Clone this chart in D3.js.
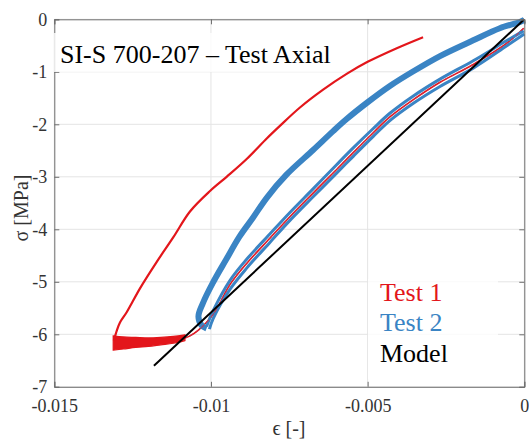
<!DOCTYPE html>
<html>
<head>
<meta charset="utf-8">
<script src="https://cdn.jsdelivr.net/npm/d3@7"></script>
<style>
  svg#chart text.serif { font-family: "Liberation Serif", "Times New Roman", serif !important; }
</style>
</head>
<body style="margin:0">
<script>
// axis ticks
const xTicks = [-0.015, -0.01, -0.005, 0];
const yTicks = [0, -1, -2, -3, -4, -5, -6, -7];

// Test 1 (red): loading branch from origin down to the plateau
const test1Loading = [
  [-0.00002, -0.17], [-0.00057, -0.46], [-0.00163, -0.86], [-0.00269, -1.20],
  [-0.00354, -1.53], [-0.00429, -1.86], [-0.00482, -2.16], [-0.00546, -2.54],
  [-0.00599, -2.86], [-0.00674, -3.31], [-0.00748, -3.76], [-0.00812, -4.17],
  [-0.00886, -4.65], [-0.00939, -5.05], [-0.00993, -5.62], [-0.01040, -5.92],
  [-0.01070, -6.04], [-0.01083, -6.07]
];
// Test 1 plateau, top and bottom edge of the noisy band
const plateauStrain = [-0.01312, -0.0128, -0.0124, -0.0120, -0.0116, -0.0112, -0.01083];
const plateauTop    = [-6.03, -6.05, -6.06, -6.07, -6.06, -6.04, -6.01];
const plateauBottom = [-6.30, -6.28, -6.25, -6.23, -6.20, -6.17, -6.12];
// Test 1 unloading branch
const test1Unloading = [
  [-0.01310, -6.12], [-0.01300, -5.92], [-0.01290, -5.77], [-0.01269, -5.58],
  [-0.01226, -5.12], [-0.01173, -4.62], [-0.01120, -4.15], [-0.01067, -3.66],
  [-0.01003, -3.27], [-0.00950, -3.00], [-0.00886, -2.66], [-0.00822, -2.27],
  [-0.00780, -2.03], [-0.00716, -1.68], [-0.00642, -1.34], [-0.00567, -1.04],
  [-0.00500, -0.81], [-0.00407, -0.55], [-0.00323, -0.34]
];

// Test 2 (blue): first loading strand, unloading, second loading strand
const test2LoadingA = [
  [-0.00002, -0.22], [-0.00057, -0.41], [-0.00163, -0.79], [-0.00269, -1.14],
  [-0.00354, -1.46], [-0.00429, -1.79], [-0.00482, -2.08], [-0.00546, -2.45],
  [-0.00599, -2.77], [-0.00674, -3.23], [-0.00748, -3.68], [-0.00812, -4.09],
  [-0.00886, -4.57], [-0.00939, -4.97], [-0.00993, -5.55], [-0.01014, -5.85]
];
const test2Unloading = [
  [-0.01014, -5.89], [-0.01030, -5.83], [-0.01040, -5.66], [-0.01026, -5.41],
  [-0.00995, -5.03], [-0.00952, -4.58], [-0.00909, -4.14], [-0.00866, -3.78],
  [-0.00822, -3.40], [-0.00759, -2.96], [-0.00674, -2.49], [-0.00610, -2.13],
  [-0.00567, -1.90], [-0.00500, -1.58], [-0.00429, -1.27], [-0.00354, -0.99],
  [-0.00269, -0.70], [-0.00163, -0.40], [-0.00078, -0.17], [-0.00014, -0.05],
  [0, -0.01]
];
const test2LoadingB = [
  [0, -0.28], [-0.00057, -0.51], [-0.00163, -0.93], [-0.00269, -1.28],
  [-0.00354, -1.60], [-0.00429, -1.93], [-0.00482, -2.23], [-0.00546, -2.61],
  [-0.00599, -2.93], [-0.00674, -3.38], [-0.00748, -3.83], [-0.00812, -4.25],
  [-0.00886, -4.74], [-0.00939, -5.14], [-0.00993, -5.70], [-0.01005, -5.90]
];

// Model (black), straight line
const modelLine = [[-0.01182, -6.60], [0, 0]];

const legendNames = ['Test 1', 'Test 2', 'Model'];
const legendColors = ['#e3161b', '#3a84c4', '#000000'];

const margin = { left: 54.3, top: 19.3 };
const width = 470;
const height = 367.5;
const fontStack = '"Liberation Serif", "Times New Roman", serif';

function serifText(sel) {
  sel.classed('serif', true)
    .attr('font-family', fontStack)
    .style('font-family', fontStack, 'important');
}

const x = d3.scaleLinear().domain([-0.015, 0]).range([0, width]);
const y = d3.scaleLinear().domain([-7, 0]).range([height, 0]);

const svg = d3.select('body').append('svg')
  .attr('id', 'chart')
  .attr('width', 529).attr('height', 439);

const g = svg.append('g')
  .attr('transform', 'translate(' + margin.left + ',' + margin.top + ')');

// grid
g.append('g').selectAll('line').data(xTicks).join('line')
  .attr('x1', d => x(d)).attr('x2', d => x(d))
  .attr('y1', 0).attr('y2', height)
  .attr('stroke', '#e4e4e4').attr('stroke-width', 1);
g.append('g').selectAll('line').data(yTicks).join('line')
  .attr('x1', 0).attr('x2', width)
  .attr('y1', d => y(d)).attr('y2', d => y(d))
  .attr('stroke', '#e4e4e4').attr('stroke-width', 1);

const line = d3.line().x(d => x(d[0])).y(d => y(d[1])).curve(d3.curveCatmullRom.alpha(0.5));

// Test 1
g.append('path').attr('d', line(test1Loading))
  .attr('fill', 'none').attr('stroke', '#e3161b').attr('stroke-width', 1.6);
const plateau = d3.area()
  .x((d, i) => x(plateauStrain[i]))
  .y0((d, i) => y(plateauBottom[i]))
  .y1((d, i) => y(plateauTop[i]))
  .curve(d3.curveCatmullRom.alpha(0.5));
g.append('path').attr('d', plateau(plateauStrain))
  .attr('fill', '#e3161b').attr('stroke', '#e3161b').attr('stroke-width', 1.2);
g.append('path').attr('d', line(test1Unloading))
  .attr('fill', 'none').attr('stroke', '#e3161b').attr('stroke-width', 2.2)
  .attr('stroke-linejoin', 'round');

// Test 2
g.append('path').attr('d', line(test2LoadingA))
  .attr('fill', 'none').attr('stroke', '#3a84c4').attr('stroke-width', 3)
  .attr('stroke-linejoin', 'round');
g.append('path').attr('d', line(test2LoadingB))
  .attr('fill', 'none').attr('stroke', '#3a84c4').attr('stroke-width', 3)
  .attr('stroke-linejoin', 'round');
g.append('path').attr('d', line(test2Unloading))
  .attr('fill', 'none').attr('stroke', '#3a84c4').attr('stroke-width', 6)
  .attr('stroke-linejoin', 'round');
// red loading seen through the blue band
g.append('path').attr('d', line(test1Loading))
  .attr('fill', 'none').attr('stroke', '#d0304a').attr('stroke-width', 1.2)
  .attr('stroke-dasharray', '4,3').attr('opacity', 0.8);

// Model
g.append('path').attr('d', line(modelLine))
  .attr('fill', 'none').attr('stroke', '#000').attr('stroke-width', 2);

// axes (box with inward ticks)
const axisColor = '#6e6e6e';
const xAxis = d3.axisBottom(x).tickValues(xTicks).tickSize(-5).tickPadding(12)
  .tickFormat(d => String(d));
const yAxis = d3.axisLeft(y).tickValues(yTicks).tickSize(-5).tickPadding(7)
  .tickFormat(d => String(d));
const xTop = d3.axisTop(x).tickValues(xTicks).tickSize(-5).tickFormat('');
const yRight = d3.axisRight(y).tickValues(yTicks).tickSize(-5).tickFormat('');

function styleAxis(sel) {
  sel.attr('font-family', fontStack);
  sel.select('.domain').attr('stroke', axisColor);
  sel.selectAll('.tick line').attr('stroke', axisColor);
  sel.selectAll('.tick text').attr('fill', '#333').attr('font-size', 18)
    .call(serifText);
}
g.append('g').attr('transform', 'translate(0,' + height + ')').call(xAxis).call(styleAxis);
g.append('g').call(yAxis).call(styleAxis);
g.append('g').call(xTop).call(styleAxis);
g.append('g').attr('transform', 'translate(' + width + ',0)').call(yRight).call(styleAxis);

// title box
svg.append('rect').attr('x', 54).attr('y', 33).attr('width', 292).attr('height', 39)
  .attr('fill', '#fff').attr('opacity', 0.8);
svg.append('text').attr('x', 60).attr('y', 62.5)
  .attr('font-size', 26).attr('fill', '#000')
  .call(serifText)
  .text('SI-S 700-207 – Test Axial');

// legend
svg.append('rect').attr('x', 368).attr('y', 279).attr('width', 130).attr('height', 100)
  .attr('fill', '#fff').attr('opacity', 0.8);
svg.append('g').selectAll('text').data(legendNames).join('text')
  .attr('x', 380)
  .attr('y', (d, i) => 300.5 + i * 30.5)
  .attr('font-size', 26)
  .call(serifText)
  .attr('fill', (d, i) => legendColors[i])
  .text(d => d);

// axis labels
svg.append('text')
  .attr('transform', 'translate(28,208) rotate(-90)')
  .attr('text-anchor', 'middle').attr('font-size', 20).attr('fill', '#333')
  .call(serifText)
  .text('σ [MPa]');
svg.append('text')
  .attr('x', 289).attr('y', 435)
  .attr('text-anchor', 'middle').attr('font-size', 20).attr('fill', '#333')
  .call(serifText)
  .text('ϵ [-]');
</script>
</body>
</html>
